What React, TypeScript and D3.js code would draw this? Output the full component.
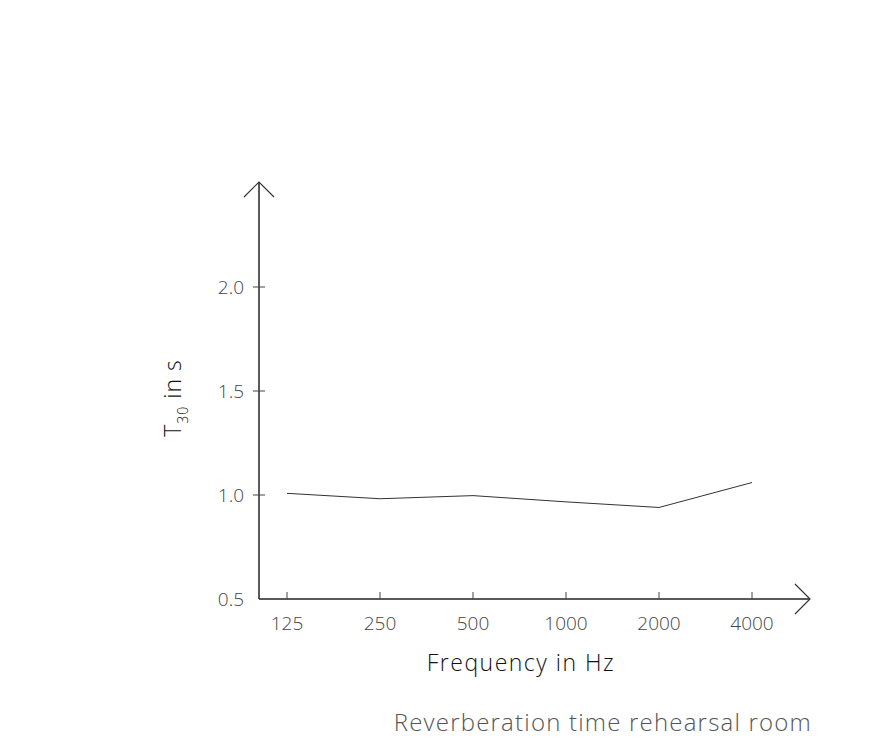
import React from "react";
import * as d3 from "d3";

const frequencies = ["125", "250", "500", "1000", "2000", "4000"];
const t30Values = [1.008, 0.982, 0.997, 0.967, 0.94, 1.06];
const yTicks = [0.5, 1.0, 1.5, 2.0];

const W = 892;
const H = 738;

export default function App() {
  const x = d3.scalePoint<string>().domain(frequencies).range([287, 752]);
  const y = d3.scaleLinear().domain([0.5, 2.0]).range([599, 287]);
  const x0 = 259;
  const y0 = 599;

  const line = d3
    .line<number>()
    .x((_, i) => x(frequencies[i]) as number)
    .y((d) => y(d));

  const font = "'Open Sans', sans-serif";

  return (
    <svg width={W} height={H} style={{ position: "absolute", left: 0, top: 0 }}>
      <rect width={W} height={H} fill="#fff" />
      {/* axes */}
      <line x1={x0} y1={y0} x2={x0} y2={182} stroke="#222" strokeWidth={1.5} />
      <line x1={x0} y1={y0} x2={810} y2={y0} stroke="#222" strokeWidth={1.5} />
      <polyline points={`244,197 ${x0},182 274,197`} fill="none" stroke="#333" strokeWidth={1.2} />
      <polyline points={`795,584 810,${y0} 795,614`} fill="none" stroke="#333" strokeWidth={1.2} />
      {/* y ticks */}
      {yTicks.map((t) => (
        <g key={t}>
          {t !== 0.5 && (
            <line x1={253} x2={265} y1={y(t)} y2={y(t)} stroke="#444" strokeWidth={1} />
          )}
          <text
            x={244}
            y={y(t) + 7}
            textAnchor="end"
            fontFamily={font}
            fontWeight={300}
            fontSize={19}
            fill="#444"
          >
            {t.toFixed(1)}
          </text>
        </g>
      ))}
      {/* x ticks */}
      {frequencies.map((f) => (
        <g key={f}>
          <line x1={x(f)} x2={x(f)} y1={y0 - 7} y2={y0} stroke="#444" strokeWidth={1} />
          <text
            x={x(f)}
            y={630}
            textAnchor="middle"
            fontFamily={font}
            fontWeight={300}
            fontSize={19}
            fill="#444"
          >
            {f}
          </text>
        </g>
      ))}
      {/* data */}
      <path d={line(t30Values) || ""} fill="none" stroke="#333" strokeWidth={1} />
      {/* axis labels */}
      <text
        x={521}
        y={671}
        textAnchor="middle"
        fontFamily={font}
        fontWeight={300}
        fontSize={23}
        letterSpacing={1.5}
        fill="#111"
      >
        Frequency in Hz
      </text>
      <text
        transform="translate(181,398) rotate(-90)"
        textAnchor="middle"
        fontFamily={font}
        fontWeight={300}
        fontSize={23}
        letterSpacing={1}
        fill="#111"
      >
        T<tspan fontSize={14} dy={7}>30</tspan>
        <tspan dy={-7}> in s</tspan>
      </text>
      {/* title */}
      <text
        x={812}
        y={731}
        textAnchor="end"
        fontFamily={font}
        fontWeight={300}
        fontSize={24}
        letterSpacing={1.2}
        fill="#555"
      >
        Reverberation time rehearsal room
      </text>
    </svg>
  );
}
